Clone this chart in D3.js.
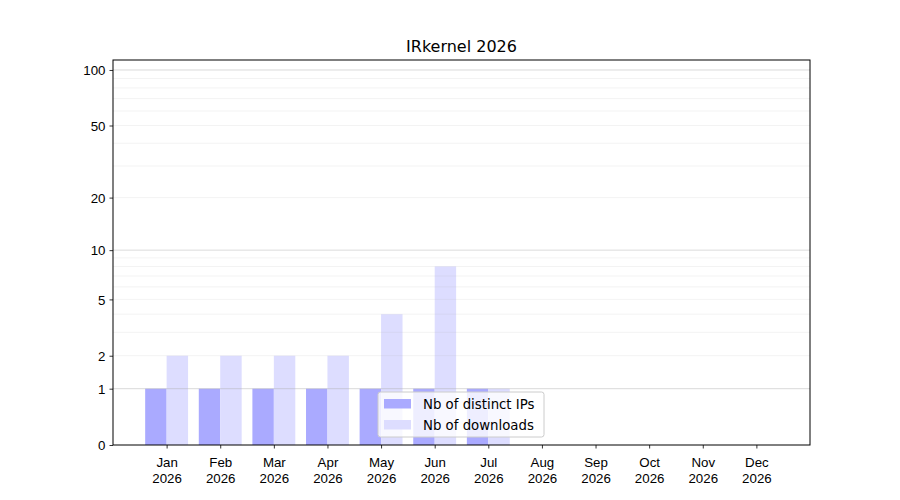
<!DOCTYPE html>
<html>
<head>
<meta charset="utf-8">
<script src="https://cdn.jsdelivr.net/npm/d3@7"></script>
<style>
  body { margin: 0; background: #fff; }
  svg { font-family: "DejaVu Sans", sans-serif; }
</style>
</head>
<body>
<div id="chart"></div>
<script>
// Chart data
const months = ['Jan', 'Feb', 'Mar', 'Apr', 'May', 'Jun', 'Jul', 'Aug', 'Sep', 'Oct', 'Nov', 'Dec'];
const year = '2026';
const distinctIps = [1, 1, 1, 1, 1, 1, 1, 0, 0, 0, 0, 0];
const downloads = [2, 2, 2, 2, 4, 8, 1, 0, 0, 0, 0, 0];
const yTicks = [0, 1, 2, 5, 10, 20, 50, 100];
const majorGrid = [1, 10, 100];
const minorGrid = [2, 3, 4, 5, 6, 7, 8, 9, 20, 30, 40, 50, 60, 70, 80, 90];
const seriesNames = ['Nb of distinct IPs', 'Nb of downloads'];
const seriesColors = ['#aaaaff', '#ddddff'];

const width = 900, height = 500;
const margin = { top: 60, right: 90, bottom: 55, left: 113 };
const innerW = width - margin.left - margin.right;
const innerH = height - margin.top - margin.bottom;

const svg = d3.select('#chart')
    .append('svg')
    .attr('width', width)
    .attr('height', height);

const g = svg.append('g')
    .attr('transform', `translate(${margin.left},${margin.top})`);

const x = d3.scaleLinear().domain([-1, 12]).range([0, innerW]);
const y = d3.scaleSymlog().constant(1).domain([0, 113.2]).range([innerH, 0]);
const barW = 0.4;

// Bars
g.append('g').selectAll('rect')
    .data(distinctIps)
    .join('rect')
    .attr('x', (d, i) => x(i - barW))
    .attr('width', (d, i) => x(i) - x(i - barW))
    .attr('y', d => y(d))
    .attr('height', d => y(0) - y(d))
    .attr('fill', seriesColors[0]);

g.append('g').selectAll('rect')
    .data(downloads)
    .join('rect')
    .attr('x', (d, i) => x(i))
    .attr('width', (d, i) => x(i + barW) - x(i))
    .attr('y', d => y(d))
    .attr('height', d => y(0) - y(d))
    .attr('fill', seriesColors[1]);

// Grid lines (drawn over bars)
g.append('g').selectAll('line')
    .data(minorGrid)
    .join('line')
    .attr('x1', 0).attr('x2', innerW)
    .attr('y1', d => y(d)).attr('y2', d => y(d))
    .attr('stroke', '#b0b0b0')
    .attr('stroke-opacity', 0.2)
    .attr('stroke-width', 0.8);

g.append('g').selectAll('line')
    .data(majorGrid)
    .join('line')
    .attr('x1', 0).attr('x2', innerW)
    .attr('y1', d => y(d)).attr('y2', d => y(d))
    .attr('stroke', '#b0b0b0')
    .attr('stroke-opacity', 0.6)
    .attr('stroke-width', 0.8);

// Axes
const yAxis = g.append('g')
    .call(d3.axisLeft(y).tickValues(yTicks).tickFormat(d3.format('d')).tickSize(3.5).tickPadding(4));

const xAxis = g.append('g')
    .attr('transform', `translate(0,${innerH})`)
    .call(d3.axisBottom(x).tickValues(d3.range(months.length)).tickFormat('').tickSize(3.5));

xAxis.selectAll('.tick').append('text')
    .attr('fill', '#000')
    .attr('text-anchor', 'middle')
    .style('font-size', '13.3px')
    .call(t => t.append('tspan').attr('x', 0).attr('y', 22).text((d) => months[d]))
    .call(t => t.append('tspan').attr('x', 0).attr('y', 38).text(year));

[yAxis, xAxis].forEach(a => {
    a.select('.domain').remove();
    a.selectAll('.tick line').attr('stroke', '#000').attr('stroke-width', 0.8);
});
yAxis.selectAll('.tick text')
    .attr('fill', '#000')
    .style('font-size', '13.3px')
    .attr('dy', '0.35em');

// Frame
g.append('rect')
    .attr('width', innerW)
    .attr('height', innerH)
    .attr('fill', 'none')
    .attr('stroke', '#000')
    .attr('stroke-width', 1);

// Title
svg.append('text')
    .attr('x', margin.left + innerW / 2)
    .attr('y', margin.top - 8)
    .attr('text-anchor', 'middle')
    .style('font-size', '16px')
    .text('IRkernel ' + year);

// Legend
const legend = svg.append('g').attr('transform', 'translate(378,392)');
legend.append('rect')
    .attr('width', 166).attr('height', 45)
    .attr('rx', 2.5)
    .attr('fill', '#fff').attr('fill-opacity', 0.8)
    .attr('stroke', '#cccccc');

const item = legend.selectAll('g.item')
    .data(seriesNames)
    .join('g')
    .attr('class', 'item')
    .attr('transform', (d, i) => `translate(6,${7 + i * 21})`);

item.append('rect')
    .attr('width', 27).attr('height', 9.5)
    .attr('fill', (d, i) => seriesColors[i]);

item.append('text')
    .attr('x', 39).attr('y', 5)
    .attr('dy', '0.35em')
    .style('font-size', '13.3px')
    .text(d => d);
</script>
</body>
</html>
